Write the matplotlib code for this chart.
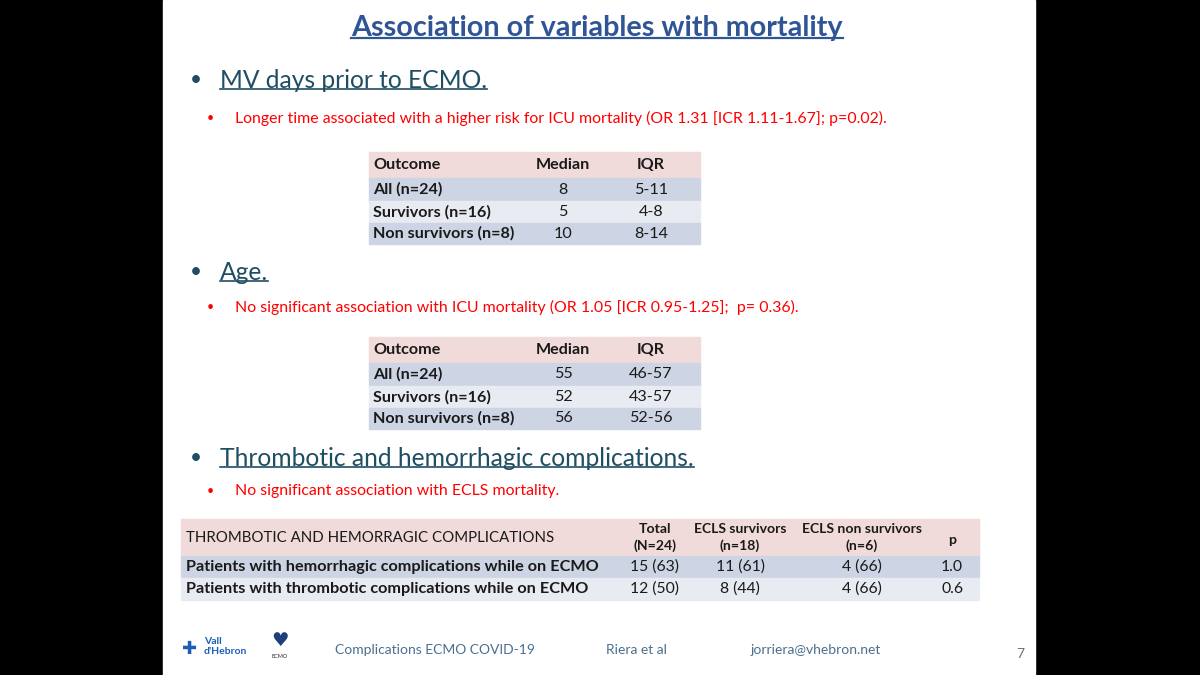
import matplotlib.pyplot as plt
from matplotlib.patches import Rectangle

plt.rcParams['font.family'] = ['Lato', 'DejaVu Sans']

# slide texts
title = 'Association of variables with mortality'
headings = ['MV days prior to ECMO.', 'Age.', 'Thrombotic and hemorrhagic complications.']
notes = ['Longer time associated with a higher risk for ICU mortality (OR 1.31 [ICR 1.11-1.67]; p=0.02).',
         'No significant association with ICU mortality (OR 1.05 [ICR 0.95-1.25];  p= 0.36).',
         'No significant association with ECLS mortality.']

# table data
outcomes = ['All (n=24)', 'Survivors (n=16)', 'Non survivors (n=8)']
mv_median = [8, 5, 10]
mv_iqr = ['5-11', '4-8', '8-14']
age_median = [55, 52, 56]
age_iqr = ['46-57', '43-57', '52-56']

comp_cols = ['THROMBOTIC AND HEMORRAGIC COMPLICATIONS', 'Total\n(N=24)', 'ECLS survivors\n(n=18)',
             'ECLS non survivors\n(n=6)', 'p']
comp_rows = ['Patients with hemorrhagic complications while on ECMO',
             'Patients with thrombotic complications while on ECMO']
comp_total = ['15 (63)', '12 (50)']
comp_surv = ['11 (61)', '8 (44)']
comp_nonsurv = ['4 (66)', '4 (66)']
comp_p = ['1.0', '0.6']

footer = ['Complications ECMO COVID-19', 'Riera et al', 'jorriera@vhebron.net', '7']

PINK = '#f0dbda'
DARK = '#cdd4e3'
LIGHT = '#e8ebf2'
TXT = '#1a1a1a'

fig = plt.figure(figsize=(12, 6.75), dpi=100, facecolor='black')
ax = fig.add_axes([0, 0, 1, 1])
ax.set_xlim(0, 1200)
ax.set_ylim(675, 0)
ax.axis('off')
ax.add_patch(Rectangle((163, 0), 872, 675, color='white', zorder=0))

underlined = []

t = ax.text(597, 28, title, ha='center', va='center', fontsize=20.7, fontweight='bold', color='#2f5597')
underlined.append((t, '#2f5597', 1.6))

head_y = [80, 272, 458]
note_y = [118, 307, 491]
for hy, ny, h, n in zip(head_y, note_y, headings, notes):
    ax.text(190, hy, '•', ha='left', va='center', fontsize=15, color='#1f4e63')
    t = ax.text(220, hy, h, ha='left', va='center', fontsize=17.7, color='#1f4e63')
    underlined.append((t, '#1f4e63', 1.2))
    ax.text(207, ny, '•', ha='left', va='center', fontsize=9, color='red')
    ax.text(235, ny, n, ha='left', va='center', fontsize=11.4, color='red')


def small_table(top, medians, iqrs):
    x0, x1 = 369, 700
    edges = [top, top + 26, top + 49, top + 71, top + 92]
    fills = [PINK, DARK, LIGHT, DARK]
    for i, c in enumerate(fills):
        ax.add_patch(Rectangle((x0, edges[i]), x1 - x0, edges[i + 1] - edges[i], color=c, zorder=1))
    yc = [(edges[i] + edges[i + 1]) / 2 for i in range(4)]
    ax.text(373, yc[0], 'Outcome', ha='left', va='center', fontsize=11.6, fontweight='bold', color=TXT)
    ax.text(563, yc[0], 'Median', ha='center', va='center', fontsize=11.6, fontweight='bold', color=TXT)
    ax.text(651, yc[0], 'IQR', ha='center', va='center', fontsize=11.6, fontweight='bold', color=TXT)
    for i, (o, m, q) in enumerate(zip(outcomes, medians, iqrs)):
        y = yc[i + 1]
        ax.text(373, y, o, ha='left', va='center', fontsize=11.6, fontweight='bold', color=TXT)
        ax.text(563, y, str(m), ha='center', va='center', fontsize=11.6, color=TXT)
        ax.text(651, y, q, ha='center', va='center', fontsize=11.6, color=TXT)


small_table(152, mv_median, mv_iqr)
small_table(337, age_median, age_iqr)

# complications table
x0, x1 = 181, 979
edges = [519, 556, 578, 600]
for i, c in enumerate([PINK, DARK, LIGHT]):
    ax.add_patch(Rectangle((x0, edges[i]), x1 - x0, edges[i + 1] - edges[i], color=c, zorder=1))
col_x = [186, 655, 740, 862, 952]
yh = (edges[0] + edges[1]) / 2
ax.text(col_x[0], yh + 1, comp_cols[0], ha='left', va='center', fontsize=10.8, color=TXT)
for cx, lab in zip(col_x[1:], comp_cols[1:]):
    ax.text(cx, yh + (2 if lab == 'p' else 0), lab, ha='center', va='center', fontsize=10.1,
            fontweight='bold', color=TXT, linespacing=1.35)
for i in range(len(comp_rows)):
    y = (edges[i + 1] + edges[i + 2]) / 2
    ax.text(col_x[0], y, comp_rows[i], ha='left', va='center', fontsize=11.7, fontweight='bold', color=TXT)
    for cx, v in zip(col_x[1:], [comp_total[i], comp_surv[i], comp_nonsurv[i], comp_p[i]]):
        ax.text(cx, y, v, ha='center', va='center', fontsize=11.3, color=TXT)

# footer
fc = '#4a6f8f'
ax.text(335, 650, footer[0], ha='left', va='center', fontsize=10, color=fc)
ax.text(606, 650, footer[1], ha='left', va='center', fontsize=10, color=fc)
ax.text(751, 650, footer[2], ha='left', va='center', fontsize=10, color=fc)
ax.text(1020, 654, footer[3], ha='center', va='center', fontsize=10, color='#707070')

# logos (simplified)
ax.text(182, 649, '✚', ha='left', va='center', fontsize=13, color='#1a5fb4')
ax.text(204, 641, 'Vall', ha='left', va='center', fontsize=7.5, fontweight='bold', color='#1a5fb4')
ax.text(204, 652, "d'Hebron", ha='left', va='center', fontsize=7.5, fontweight='bold', color='#1a5fb4')
ax.text(280, 640, '♥', ha='center', va='center', fontsize=14, color='#1f3f7a')
ax.text(280, 656, 'ECMO', ha='center', va='center', fontsize=4, color='#222222')

fig.canvas.draw()
r = fig.canvas.get_renderer()
inv = ax.transData.inverted()
for t, c, lw in underlined:
    bb = t.get_window_extent(renderer=r)
    (xa, ya), (xb, yb) = inv.transform([(bb.x0, bb.y0), (bb.x1, bb.y1)])
    ax.plot([xa, xb], [ya - 3, ya - 3], color=c, lw=lw)

fig.savefig('out.png', dpi=100, facecolor='black')
